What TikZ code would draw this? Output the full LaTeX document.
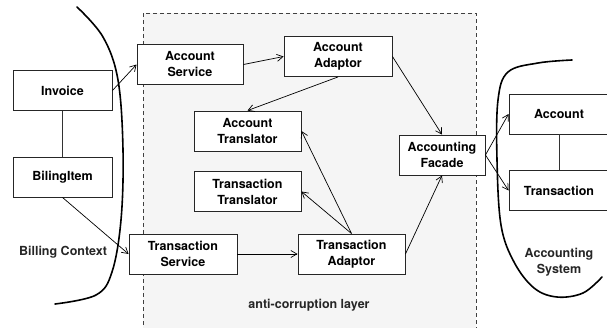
\documentclass[tikz,border=0pt]{standalone}
\usepackage{fontspec}
\setmainfont{TeX Gyre Heros}
\usepackage{tikz}
\usetikzlibrary{arrows.meta}

\begin{document}
\begin{tikzpicture}[x=1pt,y=-1pt,>={Straight Barb[length=6pt,width=7pt]},
  box/.style={draw=black!85,line width=0.9pt,fill=white,minimum width=107pt,
    minimum height=40pt,align=center,inner sep=2pt,
    font=\bfseries\fontsize{12.5}{16}\selectfont},
  lbl/.style={align=center,font=\bfseries\fontsize{12.5}{16}\selectfont,text=black!85},
  sketch/.style={line width=1.6pt,line cap=round,line join=round}]
\useasboundingbox (0,0) rectangle (607,327);
% layer
\draw[dash pattern=on 4pt off 3pt,draw=black!75,fill=black!4] (143,13) rectangle (476,345);
% boxes
\node[box,minimum width=99pt] (inv) at (62.5,90.5) {Invoice};
\node[box,minimum width=99pt] (item) at (62.5,177) {BilingItem};
\node[box,minimum width=106pt] (asvc) at (190,64.5) {Account\\Service};
\node[box,minimum width=108pt] (aadp) at (338,56.5) {Account\\Adaptor};
\node[box] (atr) at (247.5,131) {Account\\Translator};
\node[box] (ttr) at (247.5,191.5) {Transaction\\Translator};
\node[box,minimum width=108pt] (tsvc) at (183,254) {Transaction\\Service};
\node[box] (tadp) at (351.5,254) {Transaction\\Adaptor};
\node[box,minimum width=86pt] (fac) at (442,155) {Accounting\\Facade};
\node[box,minimum width=100pt] (acc) at (559,114) {Account};
\node[box,minimum width=100pt] (tra) at (559,190.5) {Transaction};
% labels
\node[lbl] (bc) at (63,252) {Billing Context};
\node[lbl] (acl) at (309,305) {anti-corruption layer};
\node[lbl] (asys) at (559,262) {Accounting\\System};
% context borders
\draw[sketch] plot[smooth,tension=0.6] coordinates {(77,7) (103,37) (118,80)
  (123,150) (121,220) (112,272) (96,295) (55,304)};
\draw[sketch] plot[smooth,tension=0.6] coordinates {(572,60) (538,63) (508,72)
  (498,100) (497,160) (501,225) (514,262) (534,288) (557,297) (583,293) (602,277)};
\path[draw=black!80,line width=0.9pt] (inv) edge (item)
          (acc) edge (tra);
\path[->,line width=0.7pt] (inv.east) edge (asvc.west)
          (asvc.east) edge (aadp.west)
          (aadp.south) edge (atr.north)
          (aadp.east) edge (fac.north)
          (item.south) edge (tsvc.west)
          (tsvc.east) edge (tadp.west)
          (tadp.north) edge (atr.east)
          (tadp.north) edge (ttr.east)
          (tadp.east) edge (fac.south)
          (fac.east) edge (acc.west)
          (fac.east) edge (tra.west);
\end{tikzpicture}
\end{document}
